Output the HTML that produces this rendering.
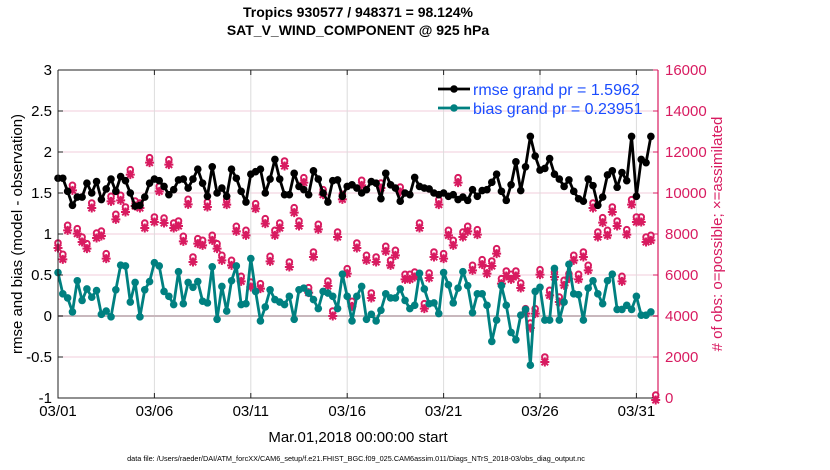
<!DOCTYPE html>
<html><head><meta charset="utf-8">
<style>
body{margin:0;background:#fff;}
svg{display:block;font-family:"Liberation Sans",Arial,sans-serif;}
</style></head>
<body>
<svg id="chart" width="830" height="470" viewBox="0 0 830 470" xmlns="http://www.w3.org/2000/svg">
<text x="358" y="17" text-anchor="middle" font-size="14" font-weight="bold">Tropics 930577 / 948371 = 98.124%</text>
<text x="358" y="35" text-anchor="middle" font-size="14" font-weight="bold">SAT_V_WIND_COMPONENT @ 925 hPa</text>
<g id="grid"></g>
<g id="obs"></g>
<g id="lines"></g>
<g id="axes"></g>
<text transform="translate(22,234) rotate(-90)" text-anchor="middle" font-size="15">rmse and bias (model - observation)</text>
<text transform="translate(722,234) rotate(-90)" text-anchor="middle" font-size="15" fill="#d81b60"># of obs: o=possible; ×=assimilated</text>
<text x="358" y="442" text-anchor="middle" font-size="15">Mar.01,2018 00:00:00 start</text>
<text x="356" y="461" text-anchor="middle" font-size="7.3">data file: /Users/raeder/DAI/ATM_forcXX/CAM6_setup/f.e21.FHIST_BGC.f09_025.CAM6assim.011/Diags_NTrS_2018-03/obs_diag_output.nc</text>
<g id="legend">
<line x1="438" y1="89" x2="470" y2="89" stroke="#000" stroke-width="2.8"/>
<circle cx="454" cy="89" r="3.8" fill="#000"/>
<text x="473" y="95" font-size="16" fill="#1a4cff">rmse grand pr = 1.5962</text>
<line x1="438" y1="108" x2="470" y2="108" stroke="#008080" stroke-width="2.8"/>
<circle cx="454" cy="108" r="3.8" fill="#008080"/>
<text x="473" y="114" font-size="16" fill="#1a4cff">bias grand pr = 0.23951</text>
</g>
</svg>
<script>
const rmse=[1.68,1.68,1.52,1.35,1.45,1.45,1.62,1.50,1.64,1.42,1.55,1.67,1.52,1.70,1.65,1.50,1.34,1.35,1.45,1.62,1.67,1.65,1.58,1.48,1.54,1.66,1.67,1.56,1.67,1.79,1.62,1.46,1.82,1.50,1.56,1.46,1.79,1.68,1.52,1.39,1.73,1.76,
1.79,1.50,1.67,1.91,1.67,1.48,1.48,1.74,1.58,1.54,1.48,1.77,1.67,1.50,1.39,1.65,1.66,1.46,1.58,1.60,1.56,1.50,1.54,1.64,1.62,1.43,1.74,1.60,1.56,1.40,1.50,1.48,1.69,1.58,1.56,1.55,1.50,1.48,1.50,1.46,1.48,
1.42,1.45,1.41,1.54,1.46,1.53,1.54,1.63,1.73,1.52,1.41,1.60,1.88,1.53,1.82,2.19,1.95,1.78,1.80,1.92,1.73,1.67,1.58,1.66,1.52,1.43,1.40,1.67,1.59,1.35,1.45,1.72,1.77,1.57,1.75,1.65,2.19,1.46,1.91,1.87,2.19];
const bias=[0.53,0.27,0.22,0.05,0.43,0.19,0.33,0.23,0.31,0.02,0.06,-0.01,0.32,0.62,0.61,0.17,0.41,-0.01,0.32,0.42,0.65,0.61,0.30,0.24,0.14,0.54,0.15,0.41,0.35,0.42,0.18,0.16,0.60,-0.04,0.36,0.06,0.43,0.61,0.14,0.15,0.70,0.30,
-0.06,0.11,0.32,0.20,0.17,0.14,0.24,-0.04,0.32,0.34,0.28,0.20,0.09,0.30,0.28,0.24,0.09,0.51,0.24,-0.06,0.24,0.36,-0.04,0.02,-0.06,0.07,0.27,0.22,0.22,0.33,0.19,0.09,0.13,0.52,0.33,0.15,0.16,0.03,0.53,0.38,0.16,
0.34,0.54,0.37,0.04,0.27,0.27,0.13,-0.31,-0.05,0.37,0.13,-0.20,-0.29,0.01,0.08,-0.60,0.30,0.35,-0.05,-0.05,0.58,-0.05,0.17,0.63,0.27,0.26,-0.05,0.34,0.43,0.27,0.15,0.43,0.51,0.08,0.08,0.13,0.08,0.24,0.01,0.01,0.05];
const obsPossible=[7415,6862,8276,10228,8114,7707,7382,9366,7902,8000,6894,9691,8813,9740,9171,10992,9463,9366,8390,11577,8683,10179,8634,11480,8390,8488,7740,9545,6732,7626,7545,9415,7789,7382,6813,9528,6569,8228,5789,8033,5512,9333,
5431,8602,6764,8033,8390,11415,6488,9138,8488,10602,5236,6976,8325,10016,5561,4098,7951,9789,6163,4569,7415,10472,6813,4976,6732,10341,7252,6569,7057,10146,5886,5886,6000,8390,4455,5951,6976,9528,6894,8033,7545,
10602,7951,8228,6325,8065,6602,6163,6537,7138,5675,6049,5886,6049,5463,4211,3512,4211,6114,1854,5106,6000,4780,5594,5919,6813,5886,6976,6325,9366,7951,8651,8033,9171,8488,5789,8065,9528,8683,8683,7707,7789,0];
const obsAssim=obsPossible;
const xTickLabels=["03/01","03/06","03/11","03/16","03/21","03/26","03/31"];
const xTickDays=[0,5,10,15,20,25,30];
const yTicks=[-1,-0.5,0,0.5,1,1.5,2,2.5,3];
const y2Ticks=[0,2000,4000,6000,8000,10000,12000,14000,16000];

const NS="http://www.w3.org/2000/svg";
const L=58,R=658,T=70,B=398;
const xMax=31.12;
const X=d=>L+(d/xMax)*(R-L);
const Y=v=>B-(v+1)/4*(B-T);
const Y2=v=>B-v/16000*(B-T);
const stepDay=0.25;
function mk(tag,attrs,parent){const e=document.createElementNS(NS,tag);for(const k in attrs)e.setAttribute(k,attrs[k]);parent.appendChild(e);return e;}
const grid=document.getElementById('grid'),axes=document.getElementById('axes'),obsG=document.getElementById('obs'),linesG=document.getElementById('lines');
const pink="#d81b60";
y2Ticks.forEach(t=>{if(t===4000)return;const g=mk('line',{x1:L,x2:R,y1:Y2(t),y2:Y2(t),stroke:"#f2cddb","stroke-width":1},grid);

});
xTickDays.forEach(d=>{const g=mk('line',{x1:X(d),x2:X(d),y1:T,y2:B,stroke:"#dcdcdc","stroke-width":1},grid);

});
const z=mk('line',{x1:L,x2:R,y1:Y(0),y2:Y(0),stroke:"#c8b8bd","stroke-width":2},grid);


obsPossible.forEach((v,i)=>{const x=X(i*stepDay),y=Y2(v);
const c=mk('circle',{cx:x,cy:y-3,r:2.8,fill:"none",stroke:pink,"stroke-width":2},obsG);


const ya=Y2(obsAssim[i])+2;
const s=mk('path',{d:`M${x-4.5},${ya}h9M${x},${ya-4.5}v9M${x-3.3},${ya-3.3}l6.6,6.6M${x+3.3},${ya-3.3}l-6.6,6.6`,stroke:pink,"stroke-width":2,fill:"none"},obsG);

});
function series(arr,color,name){
const p=mk('polyline',{points:arr.map((v,i)=>X(i*stepDay)+","+Y(v)).join(" "),fill:"none",stroke:color,"stroke-width":2.8,"stroke-linejoin":"round"},linesG);


arr.forEach((v,i)=>{const c=mk('circle',{cx:X(i*stepDay),cy:Y(v),r:3.8,fill:color},linesG);

});}
series(bias,"#008080","bias");
series(rmse,"#000000","rmse");
const ax=mk('path',{d:`M${L},${T}V${B}H${R}M${L},${T}H${R}`,stroke:"#222","stroke-width":1,fill:"none"},axes);


const ax2=mk('line',{x1:R,x2:R,y1:T,y2:B,stroke:pink,"stroke-width":1.2},axes);


yTicks.forEach(t=>{mk('line',{x1:L,x2:L+5,y1:Y(t),y2:Y(t),stroke:"#222"},axes);
const tx=mk('text',{x:L-6,y:Y(t)+5,"text-anchor":"end","font-size":15},axes);tx.textContent=String(t);

});
y2Ticks.forEach(t=>{mk('line',{x1:R-5,x2:R,y1:Y2(t),y2:Y2(t),stroke:pink},axes);
const tx=mk('text',{x:R+7,y:Y2(t)+5,"font-size":15,fill:pink},axes);tx.textContent=String(t);

});
xTickDays.forEach((d,i)=>{mk('line',{x1:X(d),x2:X(d),y1:B,y2:B-5,stroke:"#222"},axes);mk('line',{x1:X(d),x2:X(d),y1:T,y2:T+5,stroke:"#222"},axes);
const tx=mk('text',{x:X(d),y:B+18,"text-anchor":"middle","font-size":15},axes);tx.textContent=xTickLabels[i];

});
</script>
</body></html>
